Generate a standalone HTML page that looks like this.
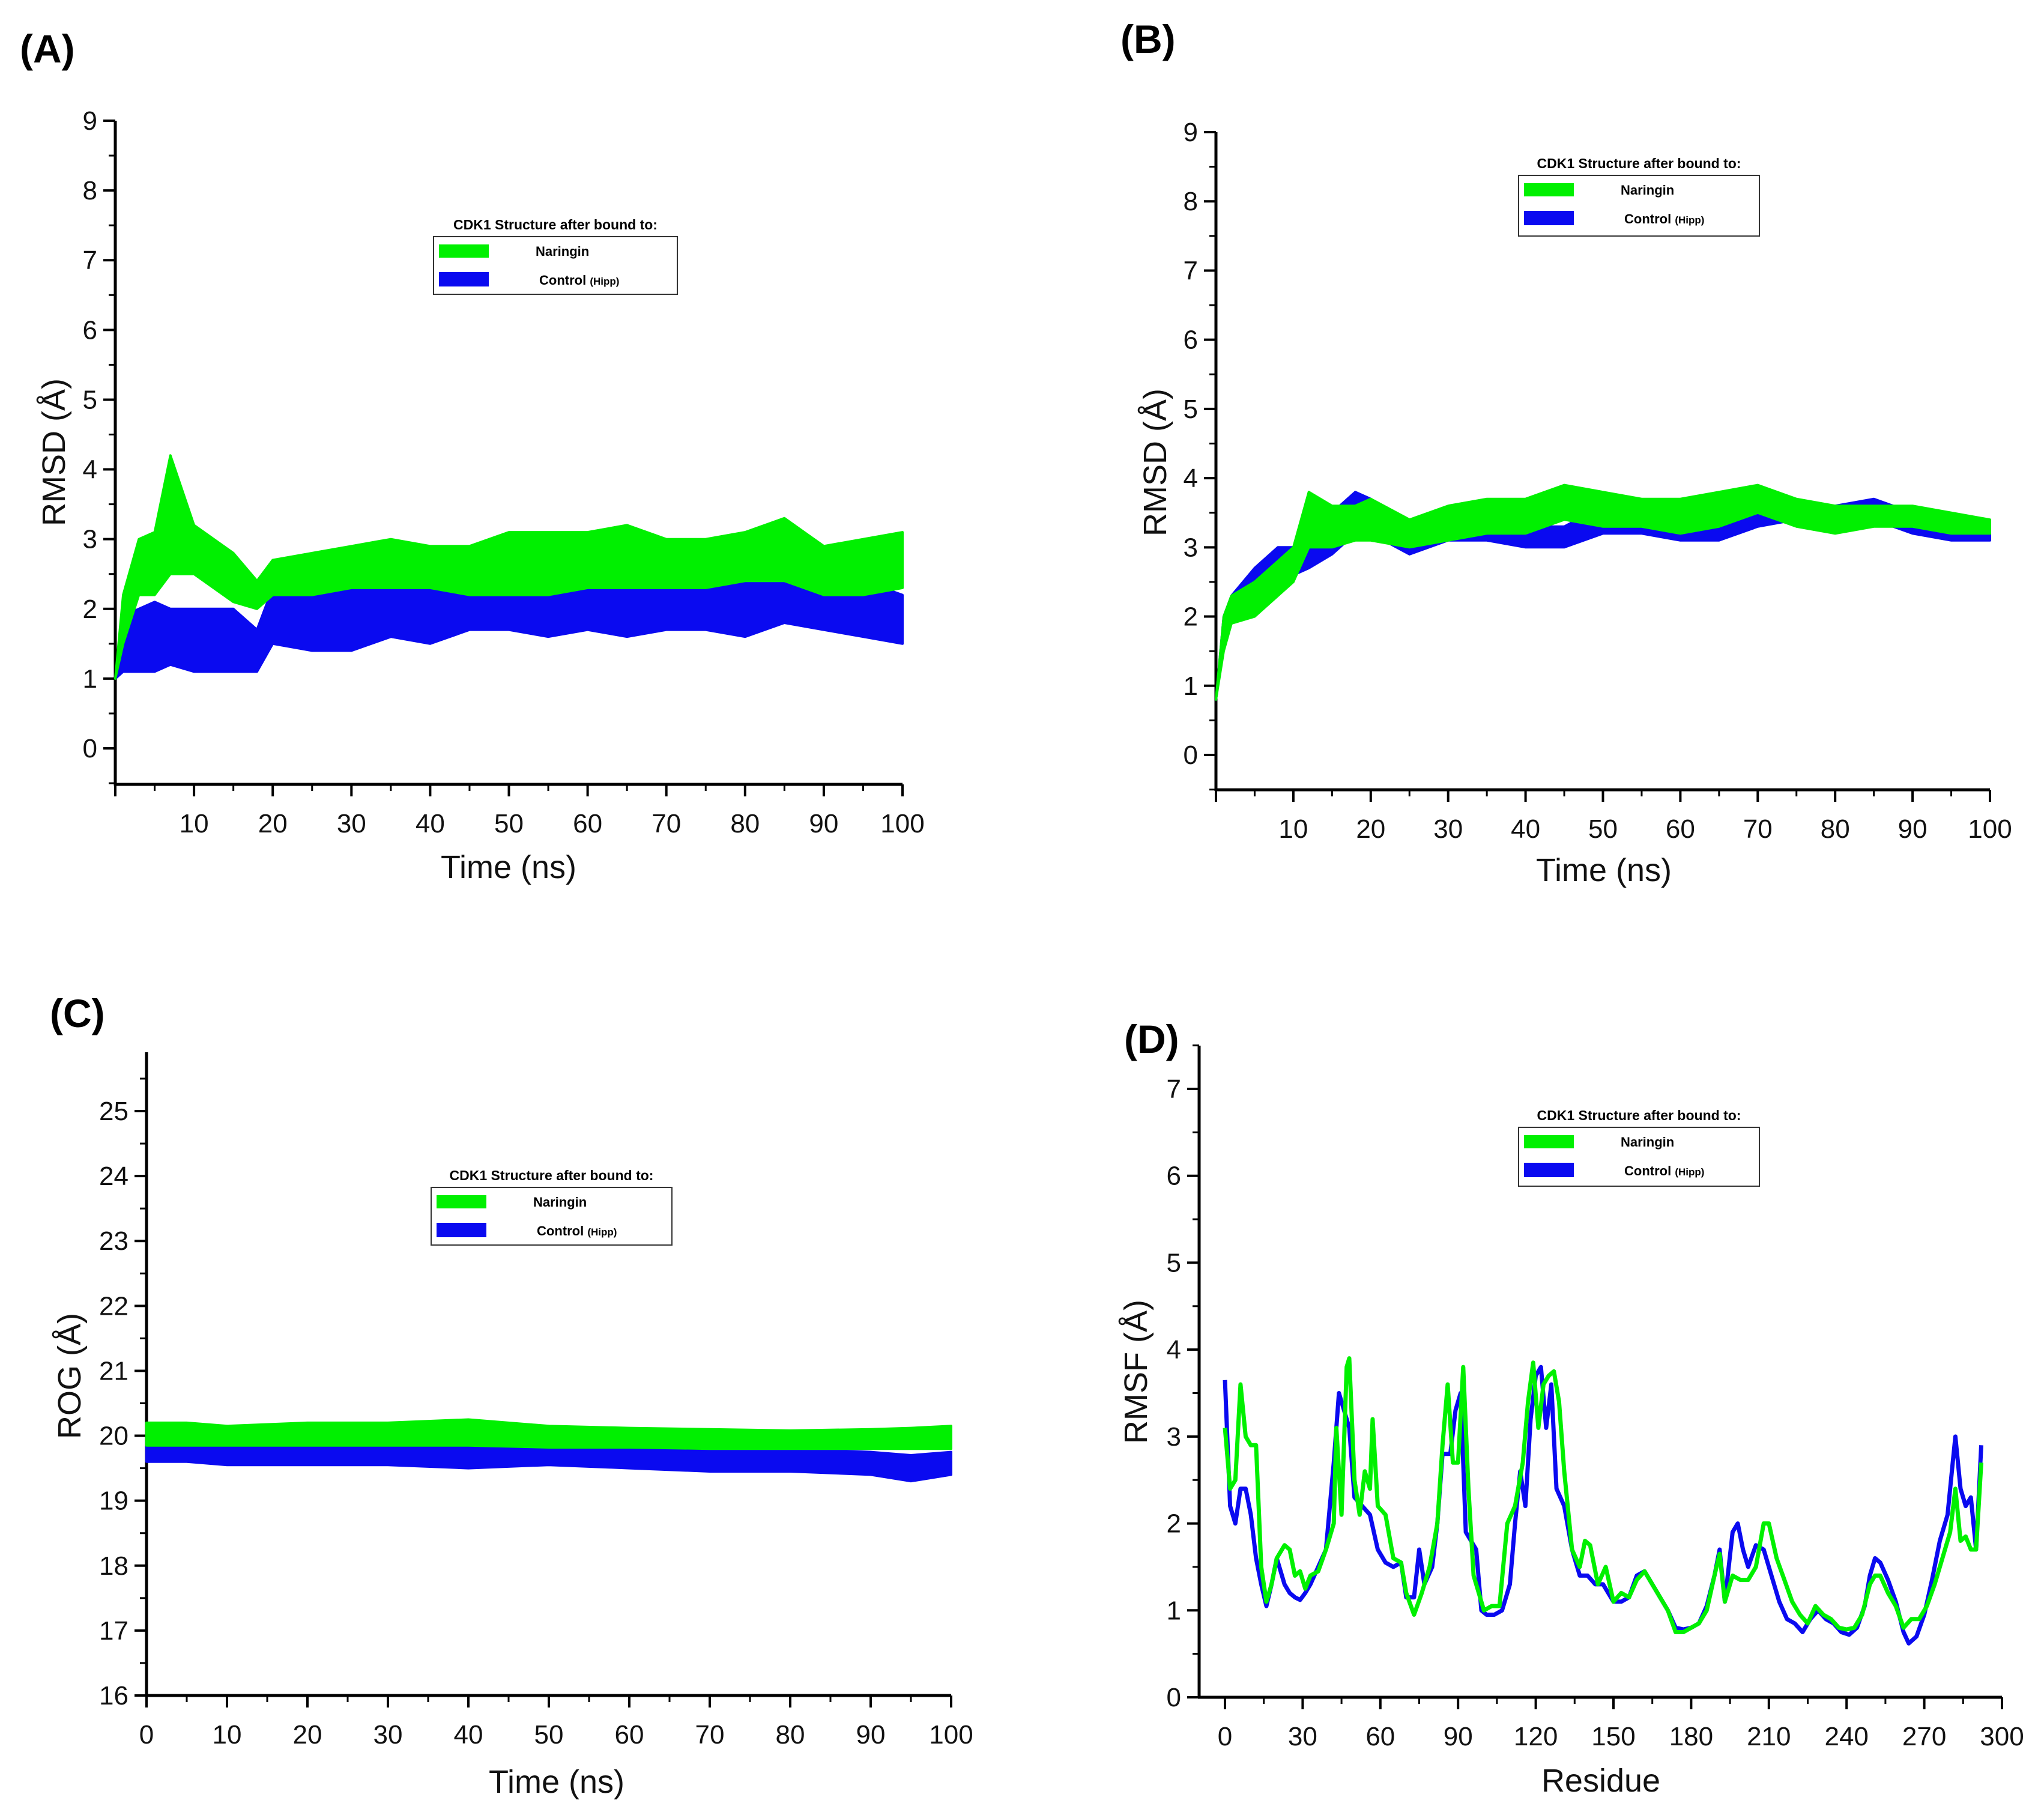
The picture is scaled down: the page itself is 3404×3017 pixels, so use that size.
<!DOCTYPE html>
<html><head><meta charset="utf-8">
<style>
html,body{margin:0;padding:0;background:#fff;}
svg{display:block;font-family:"Liberation Sans",sans-serif;}
</style></head>
<body>
<svg id="fig" width="3404" height="3017" viewBox="0 0 3404 3017" xmlns="http://www.w3.org/2000/svg">
<rect width="3404" height="3017" fill="#fff"/>
</svg>
<script>
// ---- Panel A data (RMSD, ns) ----
const aTime = [0,1,3,5,7,10,15,18,20,25,30,35,40,45,50,55,60,65,70,75,80,85,90,95,100];
const aNarLow = [1.0,1.5,2.2,2.2,2.5,2.5,2.1,2.0,2.2,2.2,2.3,2.3,2.3,2.2,2.2,2.2,2.3,2.3,2.3,2.3,2.4,2.4,2.2,2.2,2.3];
const aNarHigh = [1.0,2.2,3.0,3.1,4.2,3.2,2.8,2.4,2.7,2.8,2.9,3.0,2.9,2.9,3.1,3.1,3.1,3.2,3.0,3.0,3.1,3.3,2.9,3.0,3.1];
const aCtlLow = [1.0,1.1,1.1,1.1,1.2,1.1,1.1,1.1,1.5,1.4,1.4,1.6,1.5,1.7,1.7,1.6,1.7,1.6,1.7,1.7,1.6,1.8,1.7,1.6,1.5];
const aCtlHigh = [1.0,1.9,2.0,2.1,2.0,2.0,2.0,1.7,2.3,2.2,2.3,2.4,2.4,2.4,2.4,2.3,2.4,2.4,2.4,2.4,2.4,2.7,2.8,2.4,2.2];
// ---- Panel B data ----
const bTime = [0,1,2,5,8,10,12,15,18,20,25,30,35,40,45,50,55,60,65,70,75,80,85,90,95,100];
const bNarLow = [0.8,1.5,1.9,2.0,2.3,2.5,3.0,3.0,3.1,3.1,3.0,3.1,3.2,3.2,3.4,3.3,3.3,3.2,3.3,3.5,3.3,3.2,3.3,3.3,3.2,3.2];
const bNarHigh = [0.8,2.0,2.3,2.5,2.8,3.0,3.8,3.6,3.6,3.7,3.4,3.6,3.7,3.7,3.9,3.8,3.7,3.7,3.8,3.9,3.7,3.6,3.6,3.6,3.5,3.4];
const bCtlLow = [0.8,1.6,1.9,2.2,2.5,2.6,2.7,2.9,3.2,3.2,2.9,3.1,3.1,3.0,3.0,3.2,3.2,3.1,3.1,3.3,3.4,3.3,3.4,3.2,3.1,3.1];
const bCtlHigh = [0.8,2.0,2.3,2.7,3.0,3.0,3.0,3.5,3.8,3.7,3.3,3.4,3.4,3.3,3.3,3.6,3.5,3.4,3.4,3.8,3.6,3.6,3.7,3.5,3.4,3.3];
// ---- Panel C data (ROG) ----
const cTime = [0,5,10,20,30,40,50,60,70,80,90,95,100];
const cNarLow = [19.85,19.85,19.85,19.85,19.85,19.85,19.82,19.82,19.8,19.8,19.8,19.8,19.8];
const cNarHigh = [20.2,20.2,20.15,20.2,20.2,20.25,20.15,20.12,20.1,20.08,20.1,20.12,20.15];
const cCtlLow = [19.6,19.6,19.55,19.55,19.55,19.5,19.55,19.5,19.45,19.45,19.4,19.3,19.4];
const cCtlHigh = [19.9,19.9,19.85,19.88,19.88,19.9,19.85,19.82,19.8,19.8,19.75,19.7,19.75];
// ---- Panel D data (RMSF vs residue) ----
const dNarRes = [0,2,4,6,8,10,12,14,16,18,20,23,25,27,29,31,33,36,39,42,43,45,47,48,50,52,54,56,57,59,62,65,68,70,73,76,79,82,84,86,88,90,92,94,96,98,100,103,106,109,112,115,117,119,121,123,125,127,129,131,134,137,139,141,144,147,150,153,156,159,162,165,168,171,174,177,180,183,186,189,191,193,196,199,202,205,208,210,213,216,219,222,225,228,231,234,237,240,243,246,249,251,253,256,259,262,265,268,271,274,277,280,282,284,286,288,290,292];
const dNarVal = [3.1,2.4,2.5,3.6,3.0,2.9,2.9,1.5,1.1,1.3,1.6,1.75,1.7,1.4,1.45,1.25,1.4,1.45,1.7,2.0,3.1,2.1,3.8,3.9,2.5,2.1,2.6,2.4,3.2,2.2,2.1,1.6,1.55,1.2,0.95,1.2,1.5,2.0,2.9,3.6,2.7,2.7,3.8,2.4,1.4,1.2,1.0,1.05,1.05,2.0,2.2,2.7,3.4,3.85,3.1,3.6,3.7,3.75,3.4,2.6,1.7,1.5,1.8,1.75,1.3,1.5,1.1,1.2,1.15,1.35,1.45,1.3,1.15,1.0,0.75,0.75,0.8,0.85,1.0,1.4,1.65,1.1,1.4,1.35,1.35,1.5,2.0,2.0,1.6,1.35,1.1,0.95,0.85,1.05,0.95,0.9,0.8,0.78,0.8,0.95,1.3,1.4,1.4,1.2,1.05,0.8,0.9,0.9,1.05,1.3,1.6,1.9,2.4,1.8,1.85,1.7,1.7,2.7];
const dCtlRes = [0,2,4,6,8,10,12,14,16,18,20,23,25,27,29,31,33,36,39,42,44,46,48,50,53,56,59,62,65,68,70,73,75,77,80,82,84,87,89,91,93,95,97,99,101,104,107,110,112,114,116,118,120,122,124,126,128,131,134,137,140,143,146,150,153,156,159,162,165,168,171,174,177,180,183,186,189,191,193,196,198,200,202,205,208,211,214,217,220,223,226,229,232,235,238,241,244,247,249,251,253,256,259,262,264,267,270,273,276,279,281,282,284,286,288,290,292];
const dCtlVal = [3.65,2.2,2.0,2.4,2.4,2.1,1.6,1.3,1.05,1.3,1.6,1.3,1.2,1.15,1.12,1.2,1.3,1.5,1.7,2.7,3.5,3.3,3.1,2.3,2.2,2.1,1.7,1.55,1.5,1.55,1.15,1.15,1.7,1.3,1.5,2.0,2.8,2.8,3.3,3.5,1.9,1.8,1.7,1.0,0.95,0.95,1.0,1.3,2.0,2.6,2.2,3.2,3.7,3.8,3.1,3.6,2.4,2.2,1.7,1.4,1.4,1.3,1.3,1.1,1.1,1.15,1.4,1.45,1.3,1.15,1.0,0.8,0.78,0.8,0.85,1.05,1.4,1.7,1.1,1.9,2.0,1.7,1.5,1.75,1.7,1.4,1.1,0.9,0.85,0.75,0.9,1.0,0.9,0.85,0.75,0.72,0.8,1.05,1.4,1.6,1.55,1.35,1.1,0.75,0.62,0.7,0.95,1.35,1.8,2.1,2.7,3.0,2.4,2.2,2.3,1.7,2.9];
// tick labels
const aXTicks = [10,20,30,40,50,60,70,80,90,100];
const aYTicks = [0,1,2,3,4,5,6,7,8,9];
const cXTicks = [0,10,20,30,40,50,60,70,80,90,100];
const cYTicks = [16,17,18,19,20,21,22,23,24,25];
const dXTicks = [0,30,60,90,120,150,180,210,240,270,300];
const dYTicks = [0,1,2,3,4,5,6,7];

const NS = "http://www.w3.org/2000/svg";
const svg = document.getElementById('fig');
const GREEN = "#00f000", BLUE = "#0a0af0";
function mk(tag, attrs, parent, text){
  const e = document.createElementNS(NS, tag);
  for (const k in attrs) e.setAttribute(k, attrs[k]);
  if (text !== undefined) e.textContent = text;
  (parent || svg).appendChild(e);
  return e;
}
function scale(d0,d1,p0,p1){ return v => p0 + (v-d0)*(p1-p0)/(d1-d0); }

function panel(cfg){
  const g = mk('g', {});
  
  
  cfg.g = g;
  const xs = scale(cfg.xd[0], cfg.xd[1], cfg.xp[0], cfg.xp[1]);
  const ys = scale(cfg.yd[0], cfg.yd[1], cfg.yp[0], cfg.yp[1]);
  cfg.xs = xs; cfg.ys = ys;
  // axes
  const ya = mk('line', {x1:cfg.axisX, y1:cfg.axisTop, x2:cfg.axisX, y2:cfg.axisBottom+2, stroke:'#000','stroke-width':5}, g);
  
  
  const xa = mk('line', {x1:cfg.axisX-2, y1:cfg.axisBottom, x2:cfg.axisRight, y2:cfg.axisBottom, stroke:'#000','stroke-width':5}, g);
  
  
  // y ticks
  cfg.yTicks.forEach(v => {
    const y = ys(v);
    mk('line', {x1:cfg.axisX-20, y1:y, x2:cfg.axisX, y2:y, stroke:'#000','stroke-width':4}, g);
    const t = mk('text', {x:cfg.axisX-30, y:y+15, 'font-size':44, 'text-anchor':'end', fill:'#111'}, g, String(v));
    
    
    const ym = ys(v + cfg.yMinor);
    if (ym >= cfg.axisTop-1 && ym <= cfg.axisBottom) mk('line', {x1:cfg.axisX-11, y1:ym, x2:cfg.axisX, y2:ym, stroke:'#000','stroke-width':3}, g);
  });
  if (cfg.yd0Minor !== undefined) { const ym = ys(cfg.yd0Minor); mk('line', {x1:cfg.axisX-11, y1:ym, x2:cfg.axisX, y2:ym, stroke:'#000','stroke-width':3}, g); }
  // x ticks
  cfg.xTicks.forEach(v => {
    const x = xs(v);
    mk('line', {x1:x, y1:cfg.axisBottom, x2:x, y2:cfg.axisBottom+20, stroke:'#000','stroke-width':4}, g);
    const t = mk('text', {x:x, y:cfg.axisBottom+80, 'font-size':44, 'text-anchor':'middle', fill:'#111'}, g, String(v));
    
    
  });
  cfg.xMinors.forEach(v => {
    const x = xs(v);
    mk('line', {x1:x, y1:cfg.axisBottom, x2:x, y2:cfg.axisBottom+11, stroke:'#000','stroke-width':3}, g);
  });
  if (cfg.x0Major) mk('line', {x1:xs(cfg.xd[0]), y1:cfg.axisBottom, x2:xs(cfg.xd[0]), y2:cfg.axisBottom+20, stroke:'#000','stroke-width':4}, g);
  // titles
  const xt = mk('text', {x:cfg.xTitle[0], y:cfg.xTitle[1], 'font-size':54, 'text-anchor':'middle', fill:'#111'}, g, cfg.xLabel);
  
  
  const yt = mk('text', {x:0, y:0, 'font-size':54, 'text-anchor':'middle', fill:'#111', transform:`translate(${cfg.yTitle[0]},${cfg.yTitle[1]}) rotate(-90)`}, g, cfg.yLabel);
  
  
  const pl = mk('text', {x:cfg.tag[0], y:cfg.tag[1], 'font-size':66, 'font-weight':'bold', fill:'#000'}, g, cfg.tagText);
  
  
  return cfg;
}
function band(cfg, xsArr, lo, hi, color, name){
  let pts = [];
  for (let i=0;i<xsArr.length;i++) pts.push(cfg.xs(xsArr[i]).toFixed(1)+','+cfg.ys(hi[i]).toFixed(1));
  for (let i=xsArr.length-1;i>=0;i--) pts.push(cfg.xs(xsArr[i]).toFixed(1)+','+cfg.ys(lo[i]).toFixed(1));
  const p = mk('polygon', {points:pts.join(' '), fill:color, stroke:color, 'stroke-width':4, 'stroke-linejoin':'round'}, cfg.g);
  
  
}
function line(cfg, xsArr, vals, color, name){
  const pts = xsArr.map((x,i)=>cfg.xs(x).toFixed(1)+','+cfg.ys(vals[i]).toFixed(1)).join(' ');
  const p = mk('polyline', {points:pts, fill:'none', stroke:color, 'stroke-width':7, 'stroke-linejoin':'round'}, cfg.g);
  
  
}
function legend(cfg, x, y, w, h){
  const g = mk('g', {}, cfg.g);
  
  
  mk('text', {x:x+w/2, y:y-12, 'font-size':23, 'font-weight':'bold', 'text-anchor':'middle', fill:'#000'}, g, 'CDK1 Structure after bound to:');
  mk('rect', {x:x, y:y, width:w, height:h, fill:'none', stroke:'#333', 'stroke-width':2}, g);
  const s1 = mk('rect', {x:x+9, y:y+13, width:83, height:22, fill:GREEN}, g);
  
  
  const s2 = mk('rect', {x:x+9, y:y+59, width:83, height:24, fill:BLUE}, g);
  
  
  const t1 = mk('text', {x:x+170, y:y+32, 'font-size':22, 'font-weight':'bold', fill:'#000'}, g, 'Naringin');
  
  
  const t2 = mk('text', {x:x+176, y:y+80, 'font-size':22, 'font-weight':'bold', fill:'#000'}, g);
  
  
  mk('tspan', {}, t2, 'Control ');
  mk('tspan', {'font-size':17}, t2, '(Hipp)');
}
const m5 = [5,15,25,35,45,55,65,75,85,95];

// Panel A
const A = panel({name:'panel-a-rmsd', xd:[0,100], xp:[192,1503], yd:[0,9], yp:[1246,201],
  axisX:192, axisTop:201, axisBottom:1306, axisRight:1503, yTicks:aYTicks, yMinor:0.5, yd0Minor:-0.5,
  xTicks:aXTicks, xMinors:m5, x0Major:true, xLabel:'Time (ns)', yLabel:'RMSD (Å)',
  xTitle:[847,1462], yTitle:[108,753], tag:[33,104], tagText:'(A)'});
band(A, aTime, aCtlLow, aCtlHigh, BLUE, 'series-control-hipp');
band(A, aTime, aNarLow, aNarHigh, GREEN, 'series-naringin');
legend(A, 722, 394, 406, 96);

// Panel B
const B = panel({name:'panel-b-rmsd', xd:[0,100], xp:[2025,3314], yd:[0,9], yp:[1257,220],
  axisX:2025, axisTop:220, axisBottom:1315, axisRight:3314, yTicks:aYTicks, yMinor:0.5, yd0Minor:-0.5,
  xTicks:aXTicks, xMinors:m5, x0Major:true, xLabel:'Time (ns)', yLabel:'RMSD (Å)',
  xTitle:[2671,1467], yTitle:[1942,770], tag:[1866,88], tagText:'(B)'});
band(B, bTime, bCtlLow, bCtlHigh, BLUE, 'series-control-hipp');
band(B, bTime, bNarLow, bNarHigh, GREEN, 'series-naringin');
legend(B, 2529, 292, 401, 101);

// Panel C
const C = panel({name:'panel-c-rog', xd:[0,100], xp:[244,1584], yd:[16,25], yp:[2823,1850],
  axisX:244, axisTop:1752, axisBottom:2823, axisRight:1584, yTicks:cYTicks, yMinor:0.5,
  xTicks:cXTicks, xMinors:m5, x0Major:false, xLabel:'Time (ns)', yLabel:'ROG (Å)',
  xTitle:[927,2985], yTitle:[134,2291], tag:[83,1710], tagText:'(C)'});
band(C, cTime, cCtlLow, cCtlHigh, BLUE, 'series-control-hipp');
band(C, cTime, cNarLow, cNarHigh, GREEN, 'series-naringin');
legend(C, 718, 1977, 401, 96);

// Panel D
const D = panel({name:'panel-d-rmsf', xd:[0,300], xp:[2040,3334], yd:[0,7], yp:[2826,1813],
  axisX:1997, axisTop:1741, axisBottom:2826, axisRight:3334, yTicks:dYTicks, yMinor:0.5,
  xTicks:dXTicks, xMinors:[15,45,75,105,135,165,195,225,255,285], x0Major:false, xLabel:'Residue', yLabel:'RMSF (Å)',
  xTitle:[2666,2983], yTitle:[1910,2284], tag:[1872,1753], tagText:'(D)'});
line(D, dCtlRes, dCtlVal, BLUE, 'series-control-hipp');
line(D, dNarRes, dNarVal, GREEN, 'series-naringin');
legend(D, 2529, 1877, 401, 98);
</script>
</body></html>
